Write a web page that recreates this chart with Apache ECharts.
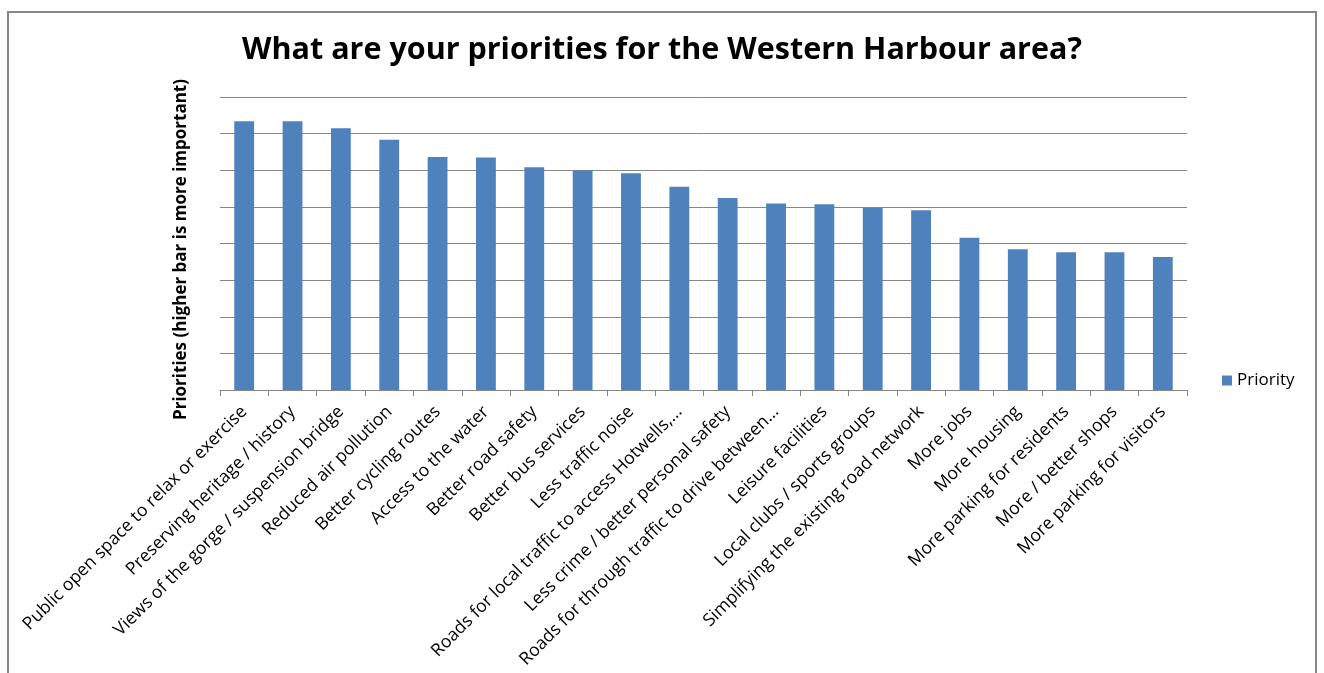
<!DOCTYPE html>
<html>
<head>
<meta charset="utf-8">
<script src="https://cdn.jsdelivr.net/npm/echarts@6/dist/echarts.min.js"></script>
<style>
  html, body { margin: 0; padding: 0; background: #fff; }
  #chart { width: 1324px; height: 673px; }
</style>
</head>
<body>
<div id="chart"></div>
<script>
// Survey priorities, ordered from most to least important
const categories = [
  'Public open space to relax or exercise',
  'Preserving heritage / history',
  'Views of the gorge / suspension bridge',
  'Reduced air pollution',
  'Better cycling routes',
  'Access to the water',
  'Better road safety',
  'Better bus services',
  'Less traffic noise',
  'Roads for local traffic to access Hotwells,...',
  'Less crime / better personal safety',
  'Roads for through traffic to drive between...',
  'Leisure facilities',
  'Local clubs / sports groups',
  'Simplifying the existing road network',
  'More jobs',
  'More housing',
  'More parking for residents',
  'More / better shops',
  'More parking for visitors'
];

const priority = [
  7.34, 7.34, 7.15, 6.83, 6.36, 6.35, 6.08, 5.99, 5.92, 5.55,
  5.24, 5.09, 5.07, 4.97, 4.91, 4.16, 3.84, 3.76, 3.76, 3.63
];

const seriesName = 'Priority';
const titleText = 'What are your priorities for the Western Harbour area?';
const yAxisTitle = 'Priorities (higher bar is more important)';

const FONT = '"Open Sans", "Liberation Sans", sans-serif';

const chart = echarts.init(document.getElementById('chart'), null, { renderer: 'canvas' });

chart.setOption({
  backgroundColor: '#ffffff',
  animation: false,
  graphic: [{
    type: 'rect',
    silent: true,
    shape: { x: 8, y: 12, width: 1308, height: 720 },
    style: { fill: 'none', stroke: '#878787', lineWidth: 2 },
    z: -10
  }],
  title: {
    text: titleText,
    left: 'center',
    top: 30,
    textStyle: { fontFamily: FONT, fontSize: 30.5, fontWeight: 'bold', color: '#000' }
  },
  legend: {
    data: [seriesName],
    left: 1222,
    top: 372,
    padding: 0,
    orient: 'vertical',
    icon: 'rect',
    itemWidth: 10,
    itemHeight: 10,
    itemGap: 6,
    textStyle: { fontFamily: FONT, fontSize: 17, color: '#000', padding: [0, 0, 0, 0] }
  },
  grid: { left: 220, right: 137, top: 97, bottom: 283, containLabel: false },
  xAxis: {
    type: 'category',
    data: categories,
    axisLine: { lineStyle: { color: '#868686', width: 1 } },
    axisTick: { show: true, alignWithLabel: false, interval: 0, length: 6, lineStyle: { color: '#868686' } },
    axisLabel: {
      interval: 0,
      rotate: 45,
      margin: 19,
      fontFamily: FONT,
      fontSize: 17.6,
      color: '#000'
    },
    splitLine: { show: false }
  },
  yAxis: {
    type: 'value',
    min: 0,
    max: 8,
    interval: 1,
    name: yAxisTitle,
    nameLocation: 'middle',
    nameGap: 30,
    nameTextStyle: { fontFamily: FONT, fontSize: 17, fontWeight: 'bold', color: '#000', padding: [0, 12, 0, 0] },
    axisLine: { show: false },
    axisTick: { show: false },
    axisLabel: { show: false },
    splitLine: { lineStyle: { color: '#868686', width: 1 } }
  },
  series: [{
    name: seriesName,
    type: 'bar',
    data: priority,
    barWidth: '41%',
    itemStyle: { color: '#4F81BD' }
  }]
});
</script>
</body>
</html>
